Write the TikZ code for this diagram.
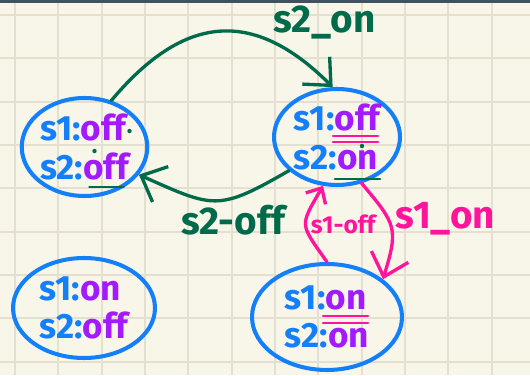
\documentclass[tikz,border=0pt]{standalone}
\usepackage{fontspec}
\setmainfont{Fira Sans}
\usetikzlibrary{shapes.geometric,arrows.meta}
\definecolor{paper}{HTML}{F8F5E9}
\definecolor{gridc}{HTML}{E4E0D0}
\definecolor{rulec}{HTML}{3F5163}
\definecolor{sblue}{HTML}{1380FA}
\definecolor{spurple}{HTML}{A31AFF}
\definecolor{sgreen}{HTML}{006B4B}
\definecolor{spink}{HTML}{FF149B}
\newcommand\stline[2]{\textcolor{sblue}{#1:}\textcolor{spurple}{#2}}
\begin{document}
\begin{tikzpicture}[x=0.02cm,y=0.02cm,>={Straight Barb[length=12pt,width=22pt]},
  state/.style={ellipse,draw=sblue,line width=2.3pt,inner sep=0pt,align=left,font=\fontsize{20}{22}\selectfont\bfseries},
  trans/.style={->,line width=1.9pt,line cap=round},
  lbl/.style={font=\fontsize{22}{23}\selectfont\bfseries},
  ul/.style={line width=1.6pt,line cap=round}]
\fill[paper](0,0)rectangle(530,375);
\useasboundingbox(0,0)rectangle(530,375);
\foreach \k in {0,...,11} \draw[gridc,line width=1.1pt](15+43.33*\k,0)--(15+43.33*\k,375);
\foreach \k in {0,...,8} \draw[gridc,line width=1.1pt](0,360-43.33*\k)--(530,360-43.33*\k);
\fill[rulec](0,372)rectangle(530,375);

\node[state,minimum width=2.44cm,minimum height=1.96cm](offoff) at (84.5,228){\stline{s1}{off}\\\stline{s2}{off}};
\node[state,minimum width=2.52cm,minimum height=1.92cm](offon) at (337,238){\stline{s1}{off}\\\stline{s2}{on}};
\node[state,minimum width=2.84cm,minimum height=2cm](onoff) at (84,67){\stline{s1}{on}\\\stline{s2}{off}};
\node[state,minimum width=3cm,minimum height=2.12cm](onon) at (327,58){\stline{s1}{on}\\\stline{s2}{on}};

\draw[sgreen,ul]([shift={(5,-40)}]offoff.center)--+(34,0);
\fill[sgreen]([shift={(45,16)}]offoff.center)circle(2.2);
\fill[sgreen]([shift={(10,-4)}]offoff.center)circle(2.2);
\draw[spink,ul]([shift={(-4,1)}]offon.center)--+(45,0);
\draw[spink,ul]([shift={(-4,-5)}]offon.center)--+(45,0);
\fill[sgreen]([shift={(25,-9)}]offon.center)circle(2.2);
\draw[sgreen,ul]([shift={(-2,-42)}]offon.center)--+(45,0);
\draw[spink,ul]([shift={(-4,1)}]onon.center)--+(45,0);
\draw[spink,ul]([shift={(-4,-6)}]onon.center)--+(45,0);

\draw[trans,sgreen](offoff.60)to[out=50,in=135,looseness=1.3]node[lbl,pos=.72,anchor=base west,inner sep=2pt,yshift=.16cm]{s2\_on}(offon.95);
\draw[trans,sgreen](offon.215)to[out=210,in=-24,looseness=1.4]node[lbl,pos=.35,below]{s2-off}(offoff.333);
\draw[trans,spink](offon.298)to[out=-50,in=73,looseness=1.4]node[lbl,pos=.38,right]{s1\_on}(onon.34);
\draw[trans,spink,>={Straight Barb[length=7pt,width=13pt]}](onon.90)to[out=125,in=-120,looseness=1.6]node[pos=.5,right,inner sep=2pt,font=\fontsize{14}{15}\selectfont\bfseries]{s1-off}(offon.254);
\end{tikzpicture}
\end{document}
